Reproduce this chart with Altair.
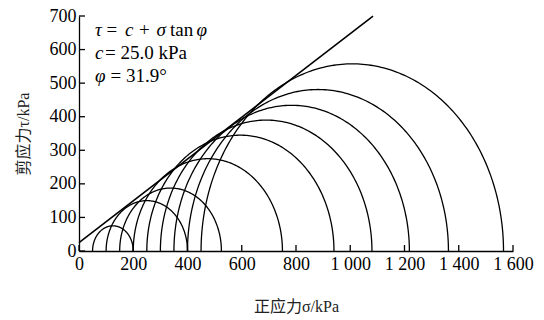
import altair as alt
import pandas as pd

# Mohr circles: minor and major principal stresses (kPa)
sigma3 = [50, 100, 150, 200, 250, 300, 350, 400, 450]
sigma1 = [200, 400, 525, 750, 940, 1080, 1218, 1362, 1565]

# Strength envelope tau = c + sigma*tan(phi)
c_kpa = 25.0
phi_deg = 31.9
env_sigma = [0, 1084]

x_ticks = [0, 200, 400, 600, 800, 1000, 1200, 1400, 1600]
y_ticks = [0, 100, 200, 300, 400, 500, 600, 700]

W, H = 434, 235
SERIF = "Liberation Serif"
CJK = "Liberation Serif, Noto Sans CJK SC"
LW = 1.3

circles_df = pd.DataFrame({"id": list(range(len(sigma3))), "s3": sigma3, "s1": sigma1})
env_df = pd.DataFrame({"sigma": env_sigma})

xscale = alt.Scale(domain=[0, 1600], nice=False, zero=False)
yscale = alt.Scale(domain=[0, 700], nice=False, zero=False)

label_expr = ("datum.value >= 1000 ? floor(datum.value/1000) + ' ' + "
              "format(datum.value % 1000, '03d') : format(datum.value, 'd')")

xaxis = alt.Axis(values=x_ticks, ticks=False, grid=False,
                 labelExpr=label_expr, labelFont=SERIF, labelFontSize=18,
                 labelColor="black", labelPadding=4, labelFlush=False,
                 labelOverlap=False,
                 domainColor="black", domainWidth=LW,
                 title="正应力σ/kPa", titleFont=CJK, titleFontSize=16,
                 titleFontWeight="normal", titleColor="#222",
                 titleY=55, titleBaseline="middle")
yaxis = alt.Axis(values=y_ticks, ticks=False, grid=False,
                 labelFont=SERIF, labelFontSize=18, labelColor="black",
                 labelPadding=3, labelFlush=False, labelOverlap=False,
                 domainColor="black", domainWidth=LW,
                 title="剪应力τ/kPa", titleFont=CJK, titleFontSize=16,
                 titleFontWeight="normal", titleColor="#222",
                 titleX=-56, titleY=H / 2, titleAngle=270,
                 titleAlign="center", titleBaseline="middle")

circles = (
    alt.Chart(circles_df)
    .transform_calculate(t="sequence(0, 180.5, 1)")
    .transform_flatten(["t"])
    .transform_calculate(
        cx="(datum.s3 + datum.s1) / 2",
        r="(datum.s1 - datum.s3) / 2",
    )
    .transform_calculate(
        sx="datum.cx - datum.r * cos(datum.t * PI / 180)",
        ty="datum.r * sin(datum.t * PI / 180)",
    )
    .mark_line(color="black", strokeWidth=LW)
    .encode(
        x=alt.X("sx:Q", scale=xscale, axis=xaxis, title="正应力σ/kPa"),
        y=alt.Y("ty:Q", scale=yscale, axis=yaxis, title="剪应力τ/kPa"),
        detail="id:N",
        order="t:Q",
    )
)

envelope = (
    alt.Chart(env_df)
    .transform_calculate(tau=f"{c_kpa} + datum.sigma * tan({phi_deg} * PI / 180)")
    .mark_line(color="black", strokeWidth=1.6)
    .encode(x=alt.X("sigma:Q", scale=xscale, axis=xaxis, title="正应力σ/kPa"),
            y=alt.Y("tau:Q", scale=yscale, axis=yaxis, title="剪应力τ/kPa"))
)

xt = (
    alt.Chart(pd.DataFrame({"v": x_ticks}))
    .mark_rule(color="black", strokeWidth=LW)
    .encode(x=alt.X("v:Q", scale=xscale, axis=xaxis, title="正应力σ/kPa"),
            y=alt.value(H), y2=alt.value(H - 6))
)
yt = (
    alt.Chart(pd.DataFrame({"v": y_ticks}))
    .mark_rule(color="black", strokeWidth=LW)
    .encode(y=alt.Y("v:Q", scale=yscale, axis=yaxis, title="剪应力τ/kPa"),
            x=alt.value(0), x2=alt.value(6))
)

# annotation segments: (text, italic?, x px, y px)
ann = [
    ("τ", True, 16, 14), ("=", False, 27.5, 14), ("c", True, 46, 14),
    ("+", False, 60, 14), ("σ", True, 77.5, 14), ("tan", False, 91, 14),
    ("φ", True, 117.5, 14),
    ("c", True, 16, 37), ("= 25.0 kPa", False, 26, 37),
    ("φ", True, 16, 60), ("= 31.9°", False, 31.5, 60),
]
text_layers = []
for txt, ital, px, py in ann:
    text_layers.append(
        alt.Chart(pd.DataFrame({"a": [0]}))
        .mark_text(text=txt, font=SERIF, fontSize=19, color="black", align="left",
                   baseline="middle", fontStyle="italic" if ital else "normal")
        .encode(x=alt.value(px), y=alt.value(py))
    )

chart = (
    alt.layer(circles, envelope, xt, yt, *text_layers)
    .properties(width=W, height=H,
                autosize=alt.AutoSizeParams(type="none"),
                padding={"left": 71, "top": 8, "right": 23, "bottom": 68})
    .configure_view(stroke=None)
)

chart.save("out.html", embed_options={"renderer": "svg", "actions": False})
